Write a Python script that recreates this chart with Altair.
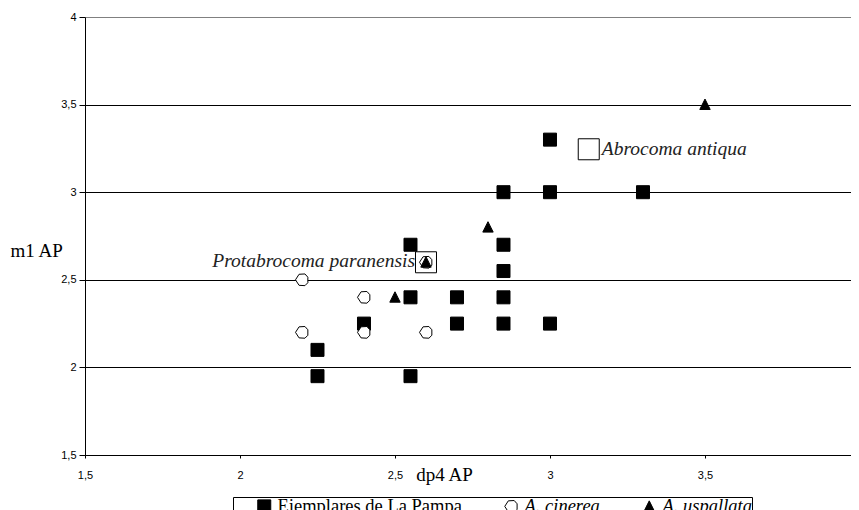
import altair as alt
import pandas as pd

# --- data ---
pampa_x = [3.0, 2.85, 3.0, 3.3, 2.55, 2.85, 2.85, 2.55, 2.7, 2.85, 2.4, 2.7, 2.85, 3.0, 2.25, 2.25, 2.55]
pampa_y = [3.3, 3.0, 3.0, 3.0, 2.7, 2.7, 2.55, 2.4, 2.4, 2.4, 2.25, 2.25, 2.25, 2.25, 2.1, 1.95, 1.95]

cinerea_x = [2.2, 2.4, 2.2, 2.4, 2.6, 2.6]
cinerea_y = [2.5, 2.4, 2.2, 2.2, 2.2, 2.6]

uspallata_x = [2.5, 2.8, 3.5, 2.6]
uspallata_y = [2.4, 2.8, 3.5, 2.6]

groups = ["Ejemplares de La Pampa", "A. cinerea", "A. uspallata"]

annot_labels = ["Protabrocoma  paranensis", "Abrocoma antiqua"]
annot_x = [2.6, 3.125]
annot_y = [2.6, 3.245]

x_ticks = [1.5, 2, 2.5, 3, 3.5]
y_ticks = [1.5, 2, 2.5, 3, 3.5, 4]

rows = []
for gx, gy, g in [(pampa_x, pampa_y, groups[0]), (cinerea_x, cinerea_y, groups[1]), (uspallata_x, uspallata_y, groups[2])]:
    for a, b in zip(gx, gy):
        rows.append({"dp4": a, "m1": b, "grupo": g})
pts = pd.DataFrame(rows)
ann = pd.DataFrame({"dp4": annot_x, "m1": annot_y, "label": annot_labels})

SERIF = "Liberation Serif"
SANS = "Liberation Sans"

cinerea_path = "M-1,0 L-0.45,-0.85 L0.45,-0.9 L0.9,-0.4 L0.9,0.45 L0.45,0.9 L-0.45,0.85 Z"
tri_path = "M0,-0.85 L0.8,0.75 L-0.8,0.75 Z"

xscale = alt.Scale(domain=[1.5, 3.971], nice=False, zero=False)
yscale = alt.Scale(domain=[1.5, 4], nice=False, zero=False)

xaxis = alt.Axis(
    values=x_ticks, format="~g", labelExpr="replace(datum.label, '.', ',')", grid=False,
    title="dp4 AP", titleFont=SERIF, titleFontSize=19, titleFontWeight="normal",
    titleColor="black", titleX=359, titleY=25, titleAlign="center", titleBaseline="alphabetic",
    labelFont=SANS, labelFontSize=11, labelColor="black", labelPadding=11,
    tickSize=3, tickColor="black", domainColor="black", labelFlush=False,
)
yaxis = alt.Axis(
    values=y_ticks, format="~g", labelExpr="replace(datum.label, '.', ',')", grid=True,
    gridColor={"condition": {"test": "datum.value == 4", "value": "#808080"}, "value": "black"},
    gridWidth=1, gridOpacity=1,
    title="m1 AP", titleFont=SERIF, titleFontSize=19, titleFontWeight="normal",
    titleColor="black", titleAngle=0, titleX=-75, titleY=233, titleAlign="left", titleBaseline="middle",
    labelFont=SANS, labelFontSize=11, labelColor="black", labelPadding=3,
    tickSize=6, tickColor="black", domainColor="black", labelFlush=False,
)

leg = alt.Legend(
    title=None, orient="none", legendX=148, legendY=480, direction="horizontal",
    strokeColor="black", fillColor="white", padding=0, symbolOffset=22,
    labelFont=SERIF, labelFontSize=18.5, labelColor="black", labelOffset=4,
    labelFontStyle=alt.ExprRef(expr="datum.label == 'Ejemplares de La Pampa' ? 'normal' : 'italic'"),
    columnPadding=18, symbolSize=169, symbolStrokeColor="black", symbolStrokeWidth=1,
    labelLimit=400,
)

points = alt.Chart(pts).mark_point(filled=True, size=169, strokeWidth=1, opacity=1).encode(
    x=alt.X("dp4:Q", scale=xscale, axis=xaxis),
    y=alt.Y("m1:Q", scale=yscale, axis=yaxis),
    shape=alt.Shape("grupo:N", scale=alt.Scale(domain=groups, range=["square", cinerea_path, tri_path]), legend=leg),
    fill=alt.Fill("grupo:N", scale=alt.Scale(domain=groups, range=["black", "white", "black"]), legend=leg),
    stroke=alt.Stroke("grupo:N", scale=alt.Scale(domain=groups, range=["black", "black", "black"]), legend=leg),
    order=alt.Order("idx:Q"),
).transform_calculate(
    idx="datum.grupo == 'Ejemplares de La Pampa' ? 0 : (datum.grupo == 'A. cinerea' ? 1 : 2)"
)

boxes = alt.Chart(ann).mark_point(shape="square", size=441, filled=False, stroke="black", strokeWidth=1, opacity=1).encode(
    x=alt.X("dp4:Q", scale=xscale),
    y=alt.Y("m1:Q", scale=yscale),
)

txt_left = alt.Chart(ann).transform_filter("datum.label != 'Abrocoma antiqua'").mark_text(
    font=SERIF, fontSize=19.5, fontStyle="italic", align="right", baseline="middle", dx=-11, dy=-1, color="#222222"
).encode(x=alt.X("dp4:Q", scale=xscale), y=alt.Y("m1:Q", scale=yscale), text="label:N")

txt_right = alt.Chart(ann).transform_filter("datum.label == 'Abrocoma antiqua'").mark_text(
    font=SERIF, fontSize=19.5, fontStyle="italic", align="left", baseline="middle", dx=13, dy=0, color="#222222"
).encode(x=alt.X("dp4:Q", scale=xscale), y=alt.Y("m1:Q", scale=yscale), text="label:N")

chart = alt.layer(boxes, points, txt_left, txt_right).properties(
    width=766, height=438,
    autosize=alt.AutoSizeParams(type="none"),
    padding={"left": 77, "top": 9, "right": 0, "bottom": 70},
    background="white",
).configure_view(stroke="transparent")

chart.save("out.html", embed_options={"renderer": "svg", "actions": False})
